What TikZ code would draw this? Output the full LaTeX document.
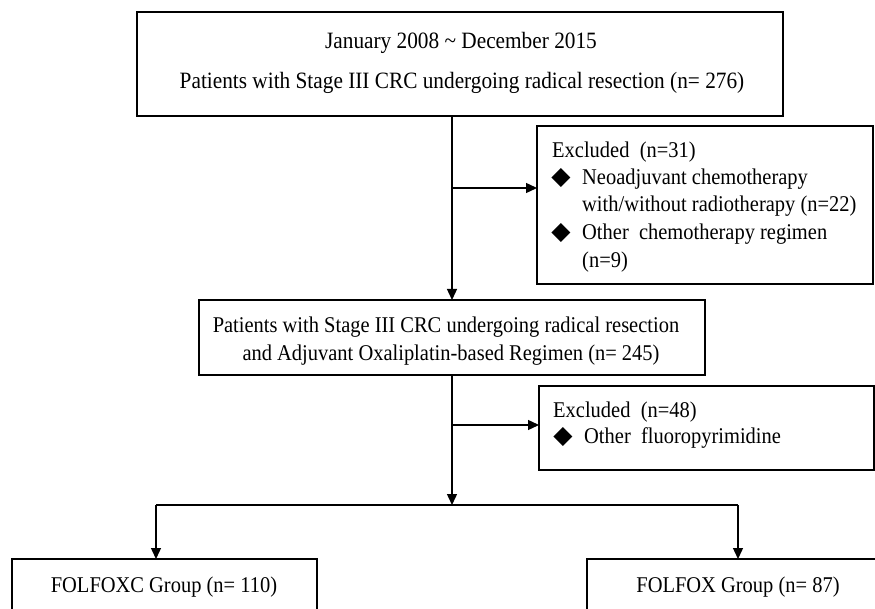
\documentclass[tikz,border=0pt]{standalone}
\usepackage{fontspec}
\setmainfont{Liberation Serif}[FakeStretch=0.91]
\newfontfamily\djv{DejaVu Sans}
\usetikzlibrary{arrows.meta}
\begin{document}
\begin{tikzpicture}[x=1pt,y=-1pt,
  box/.style={draw, line width=1.6pt, inner sep=0pt, outer sep=0pt},
  txt/.style={inner sep=0pt, font=\fontsize{22.5}{26}\selectfont},
  bigtxt/.style={inner sep=0pt, font=\fontsize{23.4}{27}\selectfont},
  bul/.style={inner sep=0pt, font=\djv\fontsize{25}{27}\selectfont},
  arr/.style={line width=1.4pt, -{Triangle[length=11pt,width=10pt]}},
  ln/.style={line width=1.4pt}]
\useasboundingbox (0,0) rectangle (875,609);
\clip (0,0) rectangle (875,609);
\fill[white] (0,0) rectangle (875,609);
% boxes
\node[box, minimum width=646pt, minimum height=104pt] (top) at (460,64) {};
\node[box, minimum width=336pt, minimum height=158pt] (ex1) at (705,205) {};
\node[box, minimum width=506pt, minimum height=75pt] (mid) at (452,337.5) {};
\node[box, minimum width=335pt, minimum height=84pt] (ex2) at (706.5,428) {};
\node[box, minimum width=305pt, minimum height=81pt] (g1) at (164.5,599.5) {};
\node[box, minimum width=303pt, minimum height=81pt] (g2) at (738.5,599.5) {};
% texts
\node[bigtxt, anchor=base] (t1) at (461,49) {January 2008 \textasciitilde\ December 2015};
\node[bigtxt, anchor=base] (t2) at (462,89) {Patients with Stage III CRC undergoing radical resection (n= 276)};
\node[txt, anchor=base west] (e1) at (552,158) {Excluded\ \ (n=31)};
\node[bul, anchor=base] (d1) at (561,185) {◆};
\node[txt, anchor=base west] (e2) at (582,185) {Neoadjuvant chemotherapy};
\node[txt, anchor=base west] (e3) at (582,212) {with/without radiotherapy (n=22)};
\node[bul, anchor=base] (d2) at (561,240) {◆};
\node[txt, anchor=base west] (e4) at (582,240) {Other\ \ chemotherapy regimen};
\node[txt, anchor=base west] (e5) at (582,268) {(n=9)};
\node[txt, anchor=base] (m1) at (446,333) {Patients with Stage III CRC undergoing radical resection};
\node[txt, anchor=base] (m2) at (451,360) {and Adjuvant Oxaliplatin-based Regimen (n= 245)};
\node[txt, anchor=base west] (f1) at (553,417) {Excluded\ \ (n=48)};
\node[bul, anchor=base] (d3) at (563,443) {◆};
\node[txt, anchor=base west] (f2) at (584,443) {Other\ \ fluoropyrimidine};
\node[txt, anchor=base] (h1) at (164,592) {FOLFOXC Group (n= 110)};
\node[txt, anchor=base] (h2) at (738,592) {FOLFOX Group (n= 87)};
% connectors
\coordinate (b1) at (452,188);
\coordinate (b2) at (452,425);
\coordinate (sp) at (452,505);
\coordinate (L) at (156,505);
\coordinate (R) at (738,505);
\draw[arr] (top.south -| mid) -- (mid.north);
\draw[arr] (b1) -- (b1 -| ex1.west);
\draw[arr] (mid.south) -- (sp);
\draw[arr] (b2) -- (b2 -| ex2.west);
\draw[ln] (L) -- (R);
\draw[arr] (L) -- (L |- g1.north);
\draw[arr] (R) -- (R |- g2.north);
\end{tikzpicture}
\end{document}
